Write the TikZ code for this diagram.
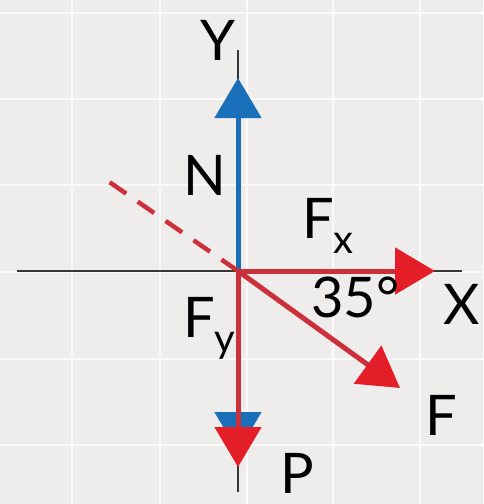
\documentclass[tikz,border=0pt]{standalone}
\usepackage{fontspec}
\setmainfont{Lato}
\usetikzlibrary{arrows.meta}

\definecolor{bggray}{RGB}{239,236,236}
\definecolor{nblue}{RGB}{26,112,184}
\definecolor{fred}{RGB}{228,30,40}
\definecolor{lred}{RGB}{204,48,58}
\definecolor{axgray}{RGB}{55,55,55}

\newcommand{\lsub}[1]{\raisebox{-15pt}{\fontsize{40}{40}\selectfont #1}}

\tikzset{
  force/.style={line width=5pt,-{Triangle[length=40pt,width=46pt]}},
  axis/.style={axgray,line width=2pt},
  lbl/.style={font=\fontsize{56}{56}\selectfont,text=black,inner sep=0pt,anchor=base west},
}

\begin{document}
\begin{tikzpicture}[x=1pt,y=-1pt]

\fill[bggray] (0,0) rectangle (483,504);
\useasboundingbox (0,0) rectangle (483,504);
\foreach \g in {72,160,247,333,420}
  \draw[white!75!bggray,line width=2pt] (\g,0) -- (\g,504);
\foreach \g in {13,99,185,272,359,445}
  \draw[white!75!bggray,line width=2pt] (0,\g) -- (483,\g);

\coordinate (O)     at (238,271);
\coordinate (xl)    at (17,271);
\coordinate (xr)    at (462,271);
\coordinate (yt)    at (238,50);
\coordinate (yb)    at (238,492);
\coordinate (ntip)  at (238,78);
\coordinate (ptip)  at (238,452);
\coordinate (fytip) at (238,467);
\coordinate (fxtip) at (435,271);
\coordinate (ftip)  at (400,388);
\coordinate (back)  at (105,179);

% axes
\draw[axis] (xl) -- (xr);
\draw[axis] (yt) -- (yb);

% forces
\draw[force,nblue] (O) -- (ntip);
\draw[force,nblue] (O) -- (ptip);
\draw[force,lred,-{Triangle[length=40pt,width=46pt,color=fred]}] (O) -- (fytip);
\draw[force,lred,-{Triangle[length=40pt,width=46pt,color=fred]}] (O) -- (fxtip);
\draw[force,lred,-{Triangle[length=40pt,width=46pt,color=fred]}] (O) -- (ftip);
\draw[lred,line width=4.5pt,dash pattern=on 20pt off 14pt] (O) -- (back);

% labels
\node[lbl] (ylbl)  at (200,60)  {Y};
\node[lbl] (nlbl)  at (183,195) {N};
\node[lbl] (fxlbl) at (302,238) {F\lsub{x}};
\node[lbl] (alpha) at (311,317) {35°};
\node[lbl] (xlbl)  at (443,324) {X};
\node[lbl] (fylbl) at (183,337) {F\lsub{y}};
\node[lbl] (flbl)  at (425,435) {F};
\node[lbl] (plbl)  at (280,493) {P};

\end{tikzpicture}
\end{document}
